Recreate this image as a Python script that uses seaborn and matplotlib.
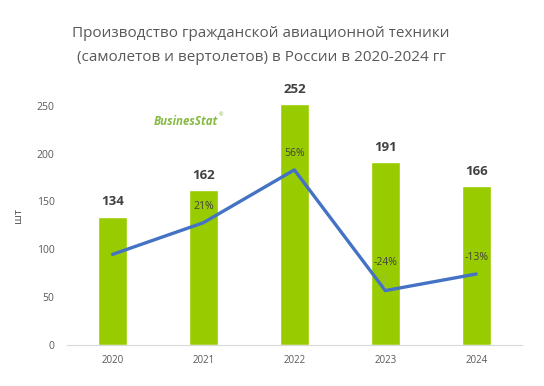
import numpy as np
import matplotlib
matplotlib.use("Agg")
import matplotlib.pyplot as plt
import seaborn as sns

years = ["2020", "2021", "2022", "2023", "2024"]
units = [134, 162, 252, 191, 166]
growth = [0.0, 0.21, 0.56, -0.24, -0.13]
growth_labels = ["", "21%", "56%", "-24%", "-13%"]

sns.set_style("white")
plt.rcParams['font.family'] = ['Open Sans', 'DejaVu Sans']

grey = "#595959"
bar_green = "#99cc00"
line_blue = "#4472c4"

fig = plt.figure(figsize=(5.44, 3.86), dpi=100)
ax = fig.add_axes([0.1232, 0.1062, 0.959 - 0.1232, 0.7756 - 0.1062])

sns.barplot(x=years, y=units, color=bar_green, width=0.32, saturation=1, ax=ax)
ax.set_ylim(0, 270)
ax.set_xlim(-0.5, 4.5)
ax.set_yticks(range(0, 251, 50))
ax.tick_params(axis="y", length=0, pad=9, labelsize=7.5, labelcolor=grey)
ax.tick_params(axis="x", length=0, pad=7, labelsize=7, labelcolor=grey)
for s in ["top", "right", "left"]:
    ax.spines[s].set_visible(False)
ax.spines["bottom"].set_color("#d9d9d9")
ax.set_xlabel("")
ax.set_ylabel("шт", color=grey, fontsize=8, labelpad=9)

for i, v in enumerate(units):
    ax.annotate(str(v), (i, v), xytext=(0, 6), textcoords="offset points",
                ha="center", va="bottom", fontsize=9.5, fontweight="bold", color="#404040")

ax2 = ax.twinx()
sns.lineplot(x=np.arange(len(years)), y=growth, color=line_blue, linewidth=2.4, ax=ax2)
ax2.set_ylim(-0.6005, 1.1116)
ax2.set_xlim(-0.5, 4.5)
ax2.axis("off")

for i, (g, lab) in enumerate(zip(growth, growth_labels)):
    if not lab:
        continue
    off = 20 if lab == "-24%" else 12
    ax2.annotate(lab, (i, g), xytext=(0, off), textcoords="offset points",
                 ha="center", va="center", fontsize=7.5, color="#404040")
    if lab == "-24%":
        ax2.annotate("", (i, g), xytext=(0, 14), textcoords="offset points",
                     arrowprops=dict(arrowstyle="-", color="#a6a6a6", lw=0.8))

fig.text(0.48, 0.913, "Производство гражданской авиационной техники",
         ha="center", va="center", fontsize=11, color=grey)
fig.text(0.48, 0.85, "(самолетов и вертолетов) в России в 2020-2024 гг",
         ha="center", va="center", fontsize=11, color=grey)

fig.text(0.282, 0.685, "BusinesStat", ha="left", va="center", fontsize=8.3,
         fontweight="bold", fontstyle="italic", color="#7ab32e", alpha=0.9)
fig.text(0.403, 0.703, "®", ha="left", va="center", fontsize=4, color="#7ab32e")

fig.savefig("out.png", dpi=100)
